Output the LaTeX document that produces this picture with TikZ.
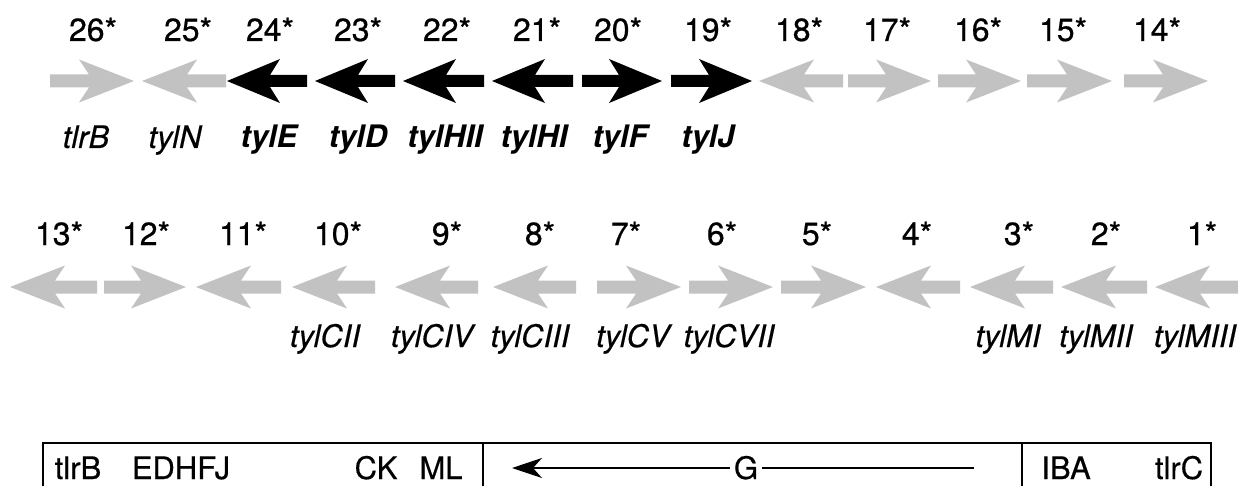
\documentclass[tikz,border=0pt]{standalone}
\usepackage{fontspec}
\setmainfont{TeX Gyre Heros}
\usetikzlibrary{arrows.meta}
\tikzset{
  pics/blk/.style={code={
    \fill (0,0) -- (-53,-22) -- (-43,-6) -- (-#1,-6) -- (-#1,6) -- (-43,6) -- (-53,22) -- cycle;}},
  pics/gry/.style={code={
    \fill (0,0) -- (-55,-21.5) -- (-45,-6.5) -- (-#1,-6.5) -- (-#1,6.5) -- (-45,6.5) -- (-55,21.5) -- cycle;}},
  num/.style={font=\fontsize{32}{34}\selectfont\addfontfeatures{FakeBold=0.6}, inner sep=0pt, anchor=base},
  lab/.style={font=\fontsize{31}{33}\selectfont\itshape\addfontfeatures{FakeBold=0.5}, inner sep=0pt, anchor=base},
  blab/.style={font=\fontsize{31}{33}\selectfont\bfseries\itshape, inner sep=0pt, anchor=base},
  boxt/.style={font=\fontsize{31}{33}\selectfont\addfontfeatures{FakeBold=0.5}, inner sep=0pt, anchor=base},
  grey/.style={color=black!24},
  dark/.style={color=black},
}
\begin{document}
\begin{tikzpicture}[x=1pt,y=-1pt]
\useasboundingbox (0,0) rectangle (1238,486);
% ---- top row numbers
\foreach \n/\x in {26/93,25/188,24/270,23/358,22/447,21/537,20/618,19/708,18/799,17/887,16/978,15/1063,14/1157}
  \node[num] (n\n) at (\x,41) {\n*};
% ---- top row arrows
\pic[grey] at (134,81) {gry=84};
\pic[grey,xscale=-1] at (142,81) {gry=84};
\pic[dark,xscale=-1] at (227,81) {blk=80};
\pic[dark,xscale=-1] at (315,81) {blk=80};
\pic[dark,xscale=-1] at (403,81) {blk=81};
\pic[dark,xscale=-1] at (492,81) {blk=81};
\pic[dark] at (662,81) {blk=80};
\pic[dark] at (752,81) {blk=81};
\pic[grey,xscale=-1] at (759,81) {gry=84};
\pic[grey] at (931,81) {gry=83};
\pic[grey] at (1021,81) {gry=83};
\pic[grey] at (1112,81) {gry=85};
\pic[grey] at (1208,81) {gry=84};
% ---- top row labels
\node[lab] (l26) at (86,148) {tlrB};
\node[lab] (l25) at (175,148) {tylN};
\node[blab] (l24) at (269,148) {tylE};
\node[blab] (l23) at (358,148) {tylD};
\node[blab] (l22) at (445,148) {tylHII};
\node[blab] (l21) at (534,148) {tylHI};
\node[blab] (l20) at (620,148) {tylF};
\node[blab] (l19) at (708,148) {tylJ};
% ---- bottom row numbers
\foreach \n/\x in {13/59,12/146,11/243,10/338,9/447,8/540,7/626,6/722,5/817,4/917,3/1019,2/1106,1/1202}
  \node[num] (n\n) at (\x,245) {\n*};
% ---- bottom row arrows
\pic[grey,xscale=-1] at (10,287) {gry=87};
\pic[grey] at (186,287) {gry=82};
\pic[grey,xscale=-1] at (196,287) {gry=85};
\pic[grey,xscale=-1] at (292,287) {gry=83};
\pic[grey,xscale=-1] at (395,287) {gry=83};
\pic[grey,xscale=-1] at (493,287) {gry=83};
\pic[grey] at (681,287) {gry=84};
\pic[grey] at (773,287) {gry=84};
\pic[grey] at (866,287) {gry=85};
\pic[grey,xscale=-1] at (876,287) {gry=84};
\pic[grey,xscale=-1] at (970,287) {gry=83};
\pic[grey,xscale=-1] at (1061,287) {gry=86};
\pic[grey,xscale=-1] at (1155,287) {gry=83};
% ---- bottom row labels
\node[lab] (l10) at (325,347) {tylCII};
\node[lab] (l9) at (432,347) {tylCIV};
\node[lab] (l8) at (530,347) {tylCIII};
\node[lab] (l7) at (633,347) {tylCV};
\node[lab] (l6) at (729,347) {tylCVII};
\node[lab] (l3) at (1008,347) {tylMI};
\node[lab] (l2) at (1096,347) {tylMII};
\node[lab] (l1) at (1195,347) {tylMIII};
% ---- map box
\draw[line width=2.5pt] (43,495) -- (43,443) -- (1211,443) -- (1211,495);
\draw[line width=2pt] (483,443) -- (483,495);
\draw[line width=2pt] (1022,443) -- (1022,495);
\node[boxt] (tb) at (78,479) {tlrB};
\node[boxt] (edh) at (181,479) {EDHFJ};
\node[boxt] (ck) at (376,479) {CK};
\node[boxt] (ml) at (441,479) {ML};
\node[boxt] (G) at (746,479) {G};
\node[boxt] (iba) at (1066,479) {IBA};
\node[boxt] (tc) at (1179,479) {tlrC};
\coordinate (gl) at (512,468);
\coordinate (gr) at (974,468);
\draw[line width=2pt,-{Stealth[length=30pt,width=20pt,inset=9pt]},shorten <=4pt] (G.west|-gl) -- (gl);
\draw[line width=2pt,shorten <=4pt] (G.east|-gr) -- (gr);
\end{tikzpicture}
\end{document}
